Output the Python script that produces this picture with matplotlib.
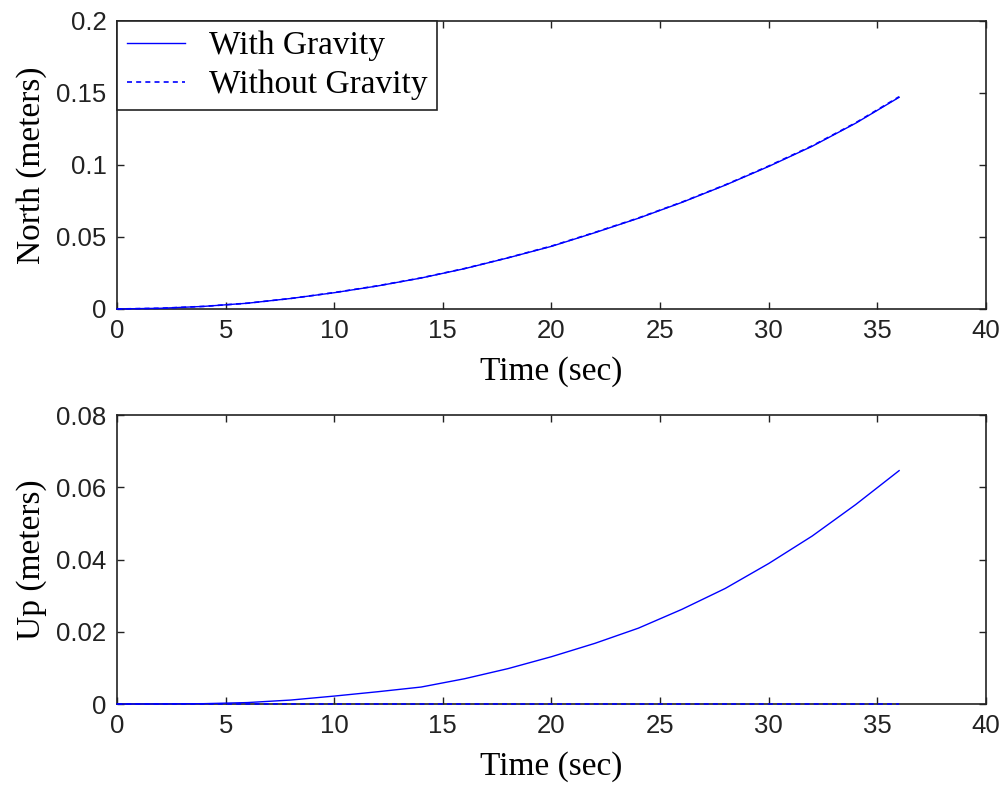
import numpy as np
import matplotlib
matplotlib.use("Agg")
import matplotlib.pyplot as plt

# time samples (sec)
t = [0, 2, 4, 6, 8, 10, 12, 14, 16, 18, 20, 22, 24, 26, 28, 30, 32, 34, 36]

# north position error (m)
north_grav = [0.0, 0.0005, 0.0018, 0.0040, 0.0073, 0.0113, 0.0160, 0.0215, 0.0280,
              0.0355, 0.0435, 0.0530, 0.0630, 0.0740, 0.0860, 0.0990, 0.1130, 0.1290, 0.1470]
north_nograv = [0.0, 0.0005, 0.0018, 0.0040, 0.0073, 0.0114, 0.0161, 0.0216, 0.0281,
                0.0356, 0.0437, 0.0532, 0.0632, 0.0742, 0.0862, 0.0993, 0.1133, 0.1293, 0.1474]

# up position error (m)
up_grav = [0.0, 0.00002, 0.0001, 0.0004, 0.0011, 0.0022, 0.0034, 0.0047, 0.0070,
           0.0098, 0.0131, 0.0168, 0.0210, 0.0262, 0.0320, 0.0389, 0.0465, 0.0552, 0.0646]
up_nograv = [0.0] * len(t)

serif = "Liberation Serif"
sans = "Liberation Sans"

fig = plt.figure(figsize=(10.05, 7.86), dpi=100)
ax1 = fig.add_axes([0.1164, 0.6069, 0.8647, 0.3664])
ax2 = fig.add_axes([0.1164, 0.1043, 0.8647, 0.3677])

panels = [
    (ax1, north_grav, north_nograv, "North (meters)", [0, 0.05, 0.1, 0.15, 0.2], ["0", "0.05", "0.1", "0.15", "0.2"]),
    (ax2, up_grav, up_nograv, "Up (meters)", [0, 0.02, 0.04, 0.06, 0.08], ["0", "0.02", "0.04", "0.06", "0.08"]),
]

for ax, yg, yn, ylab, yt, ytl in panels:
    ax.plot(t, yg, color="#0000ff", lw=1.0, label="With Gravity", zorder=3, clip_on=False)
    ax.plot(t, yn, color="#0000ff", lw=1.2, dashes=(3, 2.5), label="Without Gravity",
            zorder=3, clip_on=False)
    ax.set_xlim(0, 40)
    ax.set_ylim(yt[0], yt[-1])
    ax.set_xticks([0, 5, 10, 15, 20, 25, 30, 35, 40])
    ax.set_yticks(yt)
    ax.set_yticklabels(ytl)
    ax.tick_params(direction="in", length=5, width=1.0, top=True, right=True,
                   pad=7.5, labelsize=18.5, colors="#222222")
    for lbl in ax.get_xticklabels() + ax.get_yticklabels():
        lbl.set_fontfamily(sans)
    for sp in ax.spines.values():
        sp.set_linewidth(1.2)
        sp.set_color("#222222")
    ax.set_xlabel("Time (sec)", fontfamily=serif, fontsize=24, labelpad=9)
    ax.set_ylabel(ylab, fontfamily=serif, fontsize=24, labelpad=7)

leg = ax1.legend(loc="upper left", borderaxespad=0, fancybox=False, framealpha=1,
                 edgecolor="#222222", prop={"family": serif, "size": 24},
                 handlelength=1.75, handletextpad=0.7, borderpad=0.3, labelspacing=0.25)
leg.get_frame().set_linewidth(1.2)
leg.set_zorder(5)

fig.savefig("out.png", dpi=100)
